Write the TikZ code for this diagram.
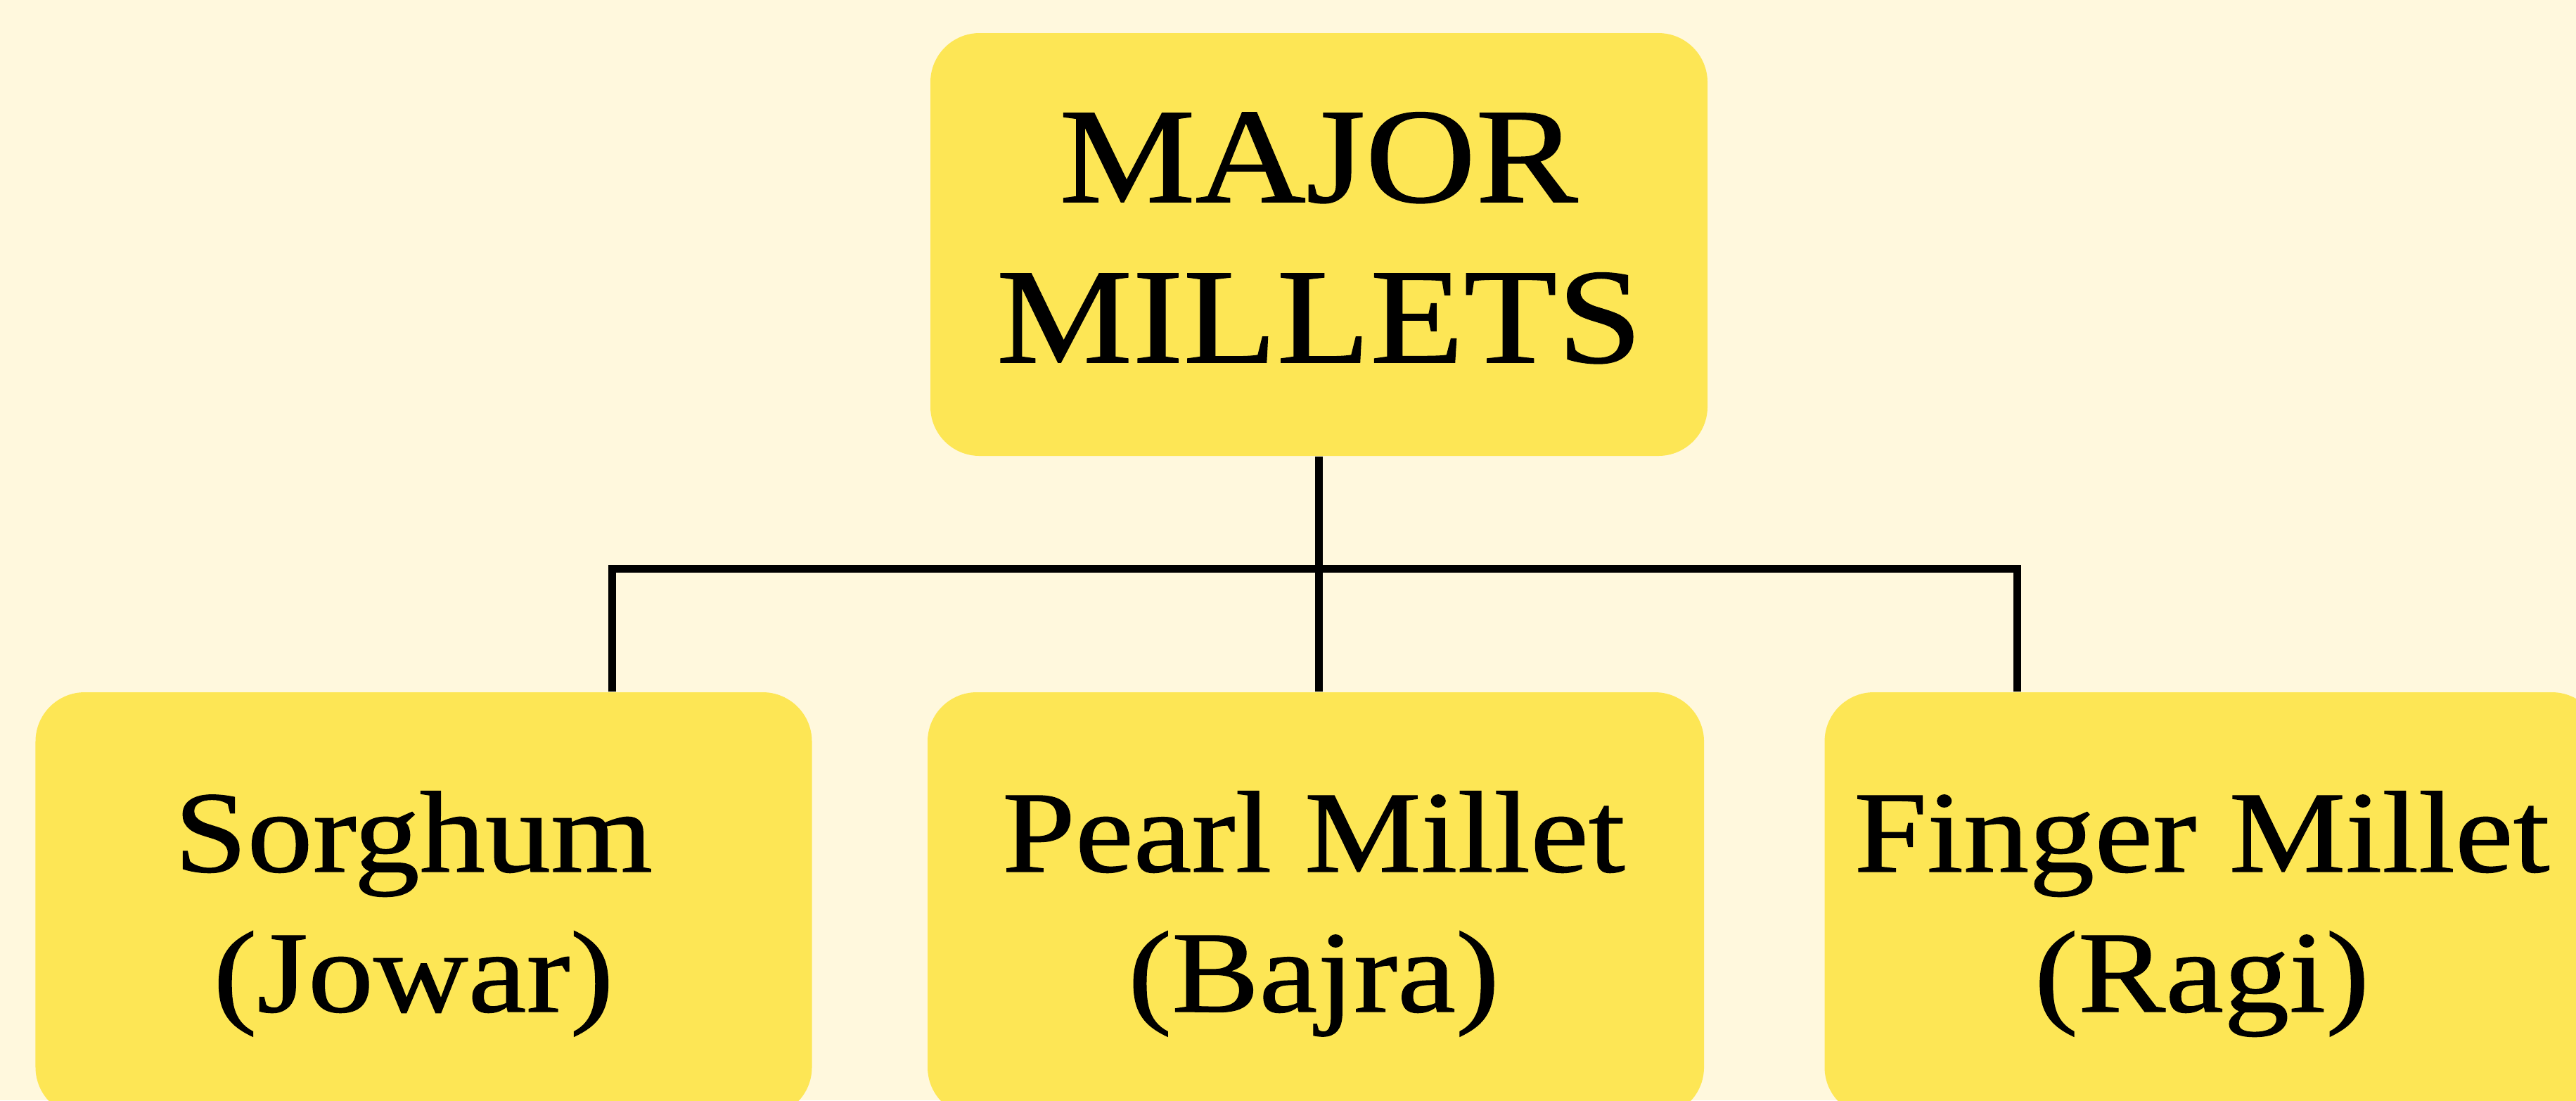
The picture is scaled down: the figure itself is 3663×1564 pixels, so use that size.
\documentclass[tikz,border=0pt]{standalone}
\usepackage{fontspec}
\setmainfont{Liberation Serif}[FakeStretch=1.13,FakeBold=0.8]
\definecolor{bgcream}{HTML}{FFF8DD}
\definecolor{boxyellow}{HTML}{FDE655}
\begin{document}
\begin{tikzpicture}[x=0.2pt,y=-0.2pt,
  milletbox/.style={fill=boxyellow,draw=none,rounded corners=14pt,inner sep=0pt,
    minimum width=220.8pt,minimum height=120.6pt},
  toptxt/.style={anchor=base,inner sep=0pt,font=\fontsize{38.5}{45.2}\selectfont},
  bottxt/.style={anchor=base,inner sep=0pt,font=\fontsize{33}{39.8}\selectfont},
  link/.style={draw=black,line width=2.2pt,line join=miter}]
\useasboundingbox (0,0) rectangle (3663,1564);
\fill[bgcream] (0,0) rectangle (3663,1564);
% boxes
\node[milletbox,minimum width=221pt,minimum height=120.2pt] (top) at (1875.5,347.5) {};
\node[milletbox] (sorg) at (602.5,1285.5) {};
\node[milletbox] (pearl) at (1871,1285.5) {};
\node[milletbox] (finger) at (3146.5,1285.5) {};
% texts
\node[toptxt] (t1) at (1875,287) {MAJOR};
\node[toptxt] (t2) at (1876,515) {MILLETS};
\node[bottxt] (s1) at (588,1239) {Sorghum};
\node[bottxt] (s2) at (588,1438) {(Jowar)};
\node[bottxt] (p1) at (1868,1239) {Pearl Millet};
\node[bottxt] (p2) at (1868,1438) {(Bajra)};
\node[bottxt] (f1) at (3131,1239) {Finger Millet};
\node[bottxt] (f2) at (3131,1438) {(Ragi)};
% connectors
\coordinate (jl) at (870,808);
\coordinate (jr) at (2868,808);
\draw[link] (top.south) -- (top.south |- pearl.north);
\draw[link] (jl |- sorg.north) -- (jl) -- (jr) -- (jr |- finger.north);
\end{tikzpicture}
\end{document}
